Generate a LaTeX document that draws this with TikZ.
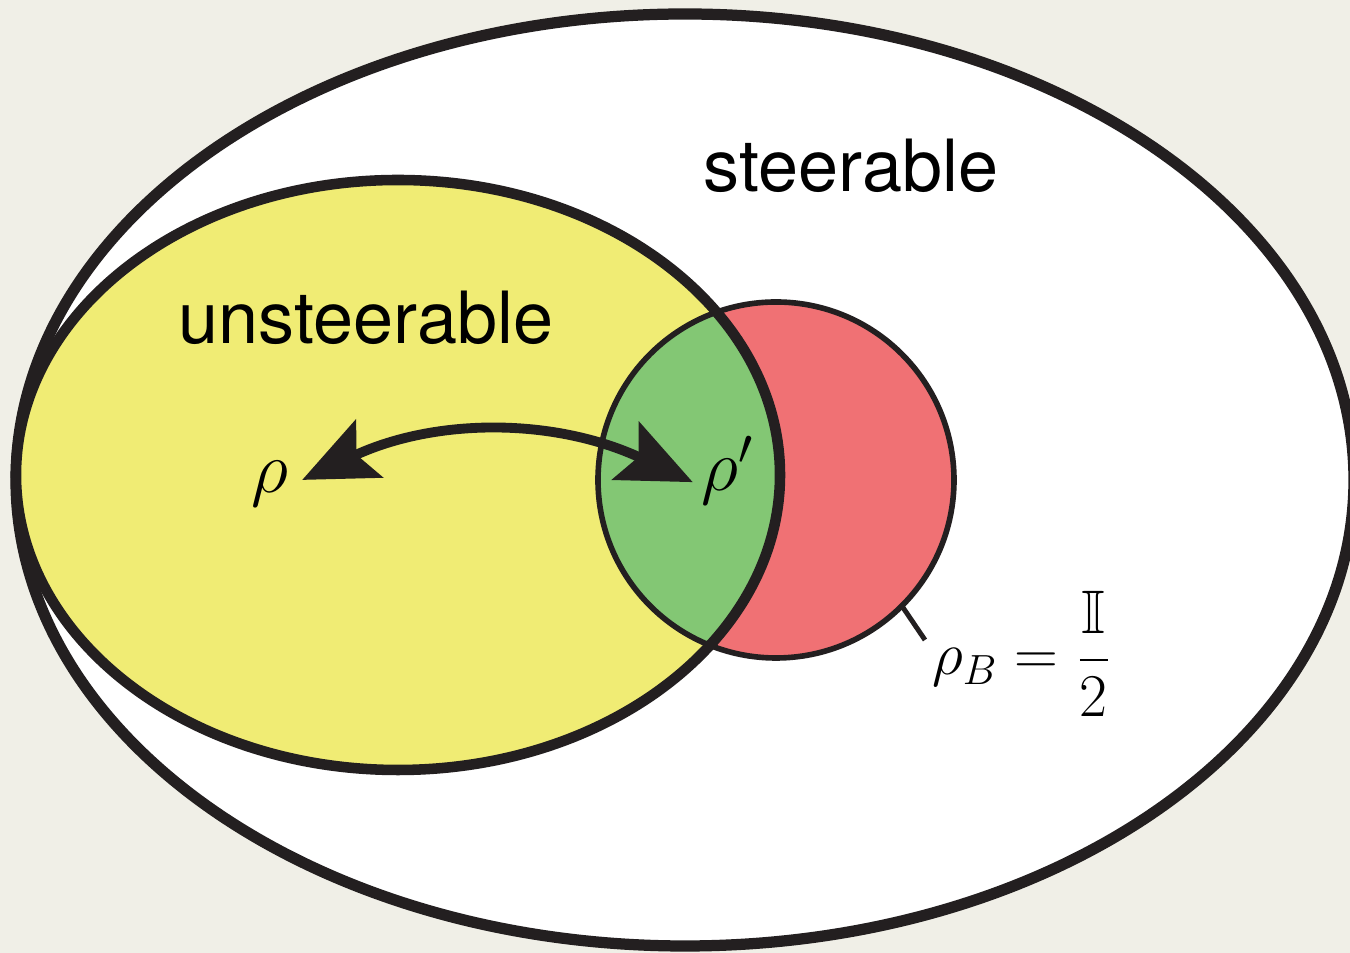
\documentclass[tikz,border=0pt]{standalone}
\usepackage{amsmath,amssymb}
\usepackage{fontspec}
\setsansfont{TeX Gyre Heros}
\usetikzlibrary{arrows.meta}

\definecolor{fond}{RGB}{240,239,231}
\definecolor{encre}{RGB}{35,31,32}
\definecolor{jaune}{RGB}{240,236,116}
\definecolor{vert}{RGB}{131,199,116}
\definecolor{rouge}{RGB}{240,113,116}

\tikzset{
  mot/.style={anchor=base, font=\sffamily\fontsize{20.5}{24}\selectfont},
  etat/.style={anchor=base, inner sep=1pt, font=\fontsize{21.5}{26}\selectfont},
  fleche/.style={line width=2.8pt, encre,
    {Stealth[length=21pt,width=18pt,inset=4pt]}-{Stealth[length=21pt,width=18pt,inset=4pt]}}
}

\begin{document}
\begin{tikzpicture}
    \useasboundingbox[fill=fond] (0,0) rectangle (13.5,9.53);

    % --- Centres des ensembles ---
    \coordinate (O) at (6.85,4.73);  % tous les états steerable
    \coordinate (U) at (3.98,4.78);  % états unsteerable
    \coordinate (M) at (7.76,4.73);  % marginale rho_B = I/2

    % --- Grand ensemble ---
    \draw[encre, line width=3.2pt, fill=white] (O) ellipse (6.69 and 4.66);

    % --- Remplissages ---
    \fill[jaune] (U) ellipse (3.82 and 2.95);
    \fill[rouge] (M) circle (1.78);
    \begin{scope}
        \clip (U) ellipse (3.82 and 2.95);
        \fill[vert] (M) circle (1.78); % intersection
    \end{scope}

    % --- Contours ---
    \draw[encre, line width=1.6pt] (M) circle (1.78);
    \draw[encre, line width=3pt] (U) ellipse (3.82 and 2.95);

    % --- Textes ---
    \node[mot] (steer) at (8.51,7.61) {steerable};
    \node[mot] (unsteer) at (3.66,6.09) {unsteerable};
    \node[etat] (rho) at (2.70,4.60) {$\rho$};
    \node[etat] (rhop) at (7.28,4.62) {$\rho'$};

    % --- Fleche entre rho et rho' ---
    \draw[fleche, shorten <=3pt, shorten >=1.5pt]
        (rho.east) to[bend left=25] (rhop.west |- rho.east);

    % --- Repere de la marginale ---
    \path (M) ++(-45:1.78) coordinate (P);
    \coordinate (Q) at (9.25,3.13);
    \draw[encre, line width=1.4pt] (P) -- (Q);
    \node[anchor=base, font=\fontsize{17.5}{21}\selectfont] (marg) at (10.22,2.78)
        {$\rho_B = \dfrac{\mathbb{I}}{2}$};
\end{tikzpicture}
\end{document}
